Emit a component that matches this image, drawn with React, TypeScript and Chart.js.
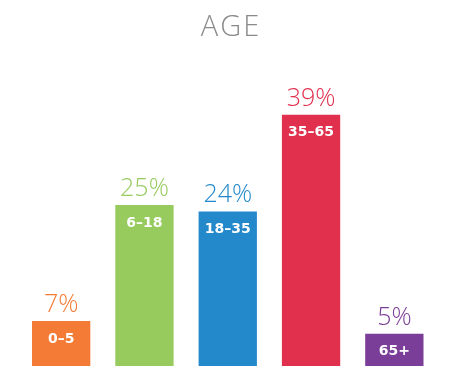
import React, { useEffect, useRef } from "react";
import { Chart, registerables } from "chart.js";

Chart.register(...registerables);

const categories = ["0–5", "6–18", "18–35", "35–65", "65+"];
const values = [7, 25, 24, 39, 5];
const valueLabels = ["7%", "25%", "24%", "39%", "5%"];
const colors = ["#F47B35", "#97CB5E", "#2389CB", "#E1304E", "#7B3E98"];
const title = "AGE";

const labelPlugin = {
  id: "labelPlugin",
  afterDatasetsDraw(chart: any) {
    const ctx = chart.ctx;
    const meta = chart.getDatasetMeta(0);
    ctx.save();
    meta.data.forEach((bar: any, i: number) => {
      const x = bar.x;
      const top = bar.y;
      ctx.textAlign = "center";
      ctx.textBaseline = "alphabetic";
      ctx.fillStyle = colors[i];
      ctx.font = "300 25px 'Open Sans', sans-serif";
      ctx.fillText(valueLabels[i], x, top - 9);
      ctx.fillStyle = "#ffffff";
      ctx.font = "bold 14px 'DejaVu Sans', sans-serif";
      ctx.textBaseline = "middle";
      ctx.fillText(categories[i], x, top + 18);
    });
    ctx.fillStyle = "#8a8a8a";
    ctx.textAlign = "center";
    ctx.textBaseline = "alphabetic";
    ctx.font = "300 29px 'Open Sans', sans-serif";
    (ctx as any).letterSpacing = "2px";
    ctx.fillText(title, 231, 36);
    ctx.restore();
  },
};

export default function App() {
  const ref = useRef<HTMLCanvasElement>(null);
  useEffect(() => {
    if (!ref.current) return;
    const chart = new Chart(ref.current, {
      type: "bar",
      data: {
        labels: categories,
        datasets: [
          {
            data: values,
            backgroundColor: colors,
            borderWidth: 0,
            barPercentage: 0.7,
            categoryPercentage: 1,
          },
        ],
      },
      options: {
        animation: false,
        responsive: false,
        maintainAspectRatio: false,
        layout: { padding: { top: 44, bottom: 14, left: 19.5, right: 17 } },
        plugins: { legend: { display: false }, tooltip: { enabled: false }, title: { display: false } },
        scales: {
          x: { display: false },
          y: { display: false, min: 0, max: 50 },
        },
      },
      plugins: [labelPlugin],
    });
    return () => chart.destroy();
  }, []);
  return (
    <div style={{ position: "fixed", left: 0, top: 0, width: 453, height: 380, background: "#fff" }}>
      <canvas ref={ref} width={453} height={380} />
    </div>
  );
}
